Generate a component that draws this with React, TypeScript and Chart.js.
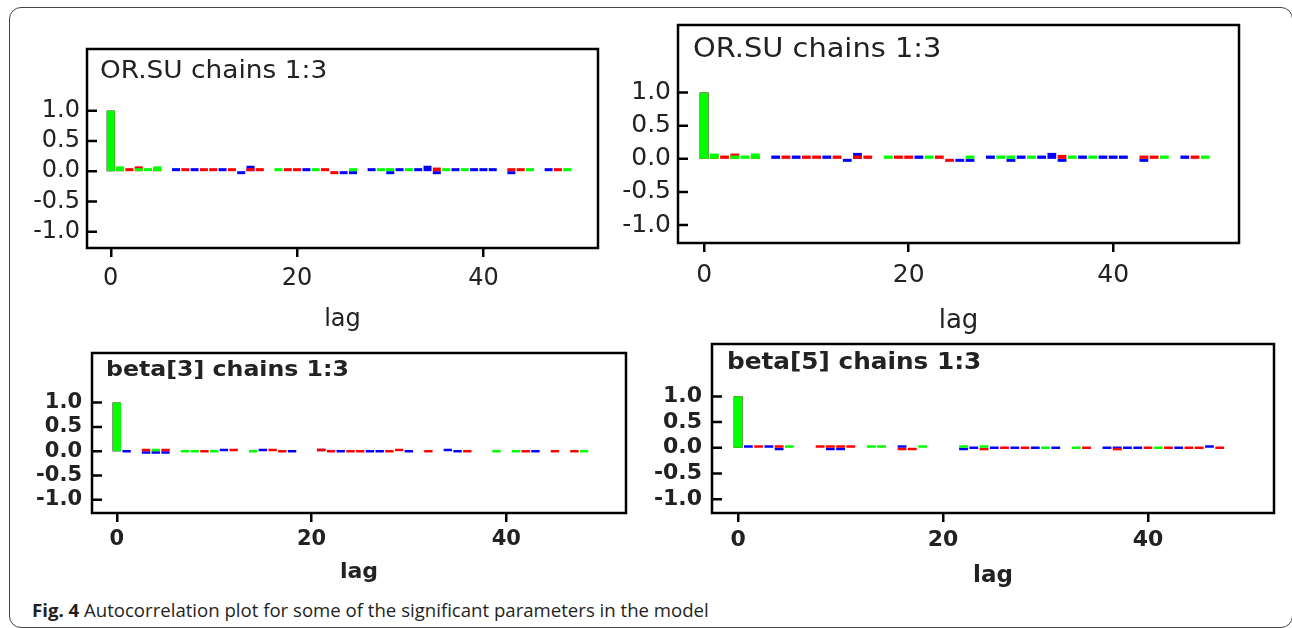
import React, { useEffect, useRef } from "react";
import { Chart, registerables } from "chart.js";

Chart.register(...registerables);

// ---------- data ----------
const LAGS = [
  0, 1, 2, 3, 4, 5, 6, 7, 8, 9, 10, 11, 12, 13, 14, 15, 16, 17, 18, 19, 20, 21, 22, 23, 24,
  25, 26, 27, 28, 29, 30, 31, 32, 33, 34, 35, 36, 37, 38, 39, 40, 41, 42, 43, 44, 45, 46, 47, 48, 49,
];
const X_TICKS = [0, 20, 40];
const Y_TICKS = [-1, -0.5, 0, 0.5, 1];
const X_MIN = -2.55;
const X_MAX = 52.3;
const Y_MIN = -1.27;
const Y_MAX = 2.02;

// OR.SU chains (chain 3 green, chain 2 red, chain 1 blue)
const ORSU_GREEN = [
  1, 0.08, null, 0.05, 0.05, 0.08, null, null, null, null,
  null, null, null, null, null, null, null, null, 0.05, null,
  null, null, 0.05, null, null, null, 0.05, null, null, 0.05,
  0.05, null, 0.05, null, null, null, 0.05, null, 0.05, null,
  null, null, null, null, null, 0.05, null, null, null, 0.05,
];
const ORSU_RED = [
  1, 0.05, 0.05, 0.08, null, 0.05, null, null, 0.05, null,
  0.05, 0.05, null, 0.05, null, 0.05, 0.05, null, null, 0.05,
  0.05, null, null, 0.05, -0.03, null, null, null, null, null,
  null, null, null, null, null, 0.06, null, null, null, null,
  null, null, null, 0.05, 0.05, null, null, null, 0.05, null,
];
const ORSU_BLUE = [
  1, null, null, null, null, null, null, 0.05, null, 0.05,
  null, null, 0.05, null, -0.04, 0.09, null, null, null, null,
  null, 0.05, null, null, null, -0.04, -0.04, null, 0.05, null,
  -0.04, 0.05, null, 0.05, 0.09, -0.04, null, 0.05, null, 0.05,
  0.05, 0.05, null, -0.04, null, null, null, 0.05, null, null,
];

const BETA3_GREEN = [
  1, null, null, null, 0.03, null, null, 0, 0, null,
  0, null, null, null, 0, null, null, null, null, null,
  null, null, null, null, null, null, null, null, null, null,
  null, null, null, null, null, null, null, null, null, 0,
  null, 0, null, null, null, null, null, null, 0, null,
];
const BETA3_RED = [
  1, null, null, 0.04, null, 0.04, null, null, null, 0,
  null, null, 0.04, null, null, null, 0.04, 0, null, null,
  null, 0.03, 0, null, 0, 0, null, null, 0, 0.04,
  null, null, 0, null, null, null, 0, null, null, null,
  null, null, 0, null, null, 0, null, 0, null, null,
];
const BETA3_BLUE = [
  1, 0, null, -0.02, -0.02, -0.02, null, null, null, null,
  null, 0.04, null, null, null, 0.04, null, null, 0, null,
  null, 0.05, null, 0, null, null, 0, 0, null, null,
  0, null, null, null, 0.04, 0, null, null, null, null,
  null, null, null, 0, null, null, null, null, null, null,
];

const BETA5_GREEN = [
  1, null, null, null, null, 0.04, null, null, null, null,
  null, null, null, 0.04, 0.04, null, null, null, 0.04, null,
  null, null, 0.04, null, 0.04, null, null, null, null, null,
  0, null, null, 0, null, null, null, null, null, null,
  null, 0, null, null, null, null, null, null, null, null,
];
const BETA5_RED = [
  1, null, 0.03, null, 0.04, null, null, null, 0.03, 0.03,
  0.03, 0.03, null, null, null, null, -0.03, -0.02, null, null,
  null, null, null, null, -0.02, null, 0, null, 0, null,
  null, null, null, null, 0, null, null, -0.05, null, null,
  0, null, 0, null, 0, 0, null, 0, null, null,
];
const BETA5_BLUE = [
  1, 0.03, null, 0.03, -0.03, null, null, null, null, -0.03,
  -0.03, null, null, null, null, null, 0.04, null, null, null,
  null, null, -0.02, 0, null, 0, null, 0, null, 0,
  null, 0, null, null, null, null, 0, 0, 0, 0,
  null, null, null, 0, null, null, 0.04, null, null, null,
];

const CHAIN_COLORS = ["#00ff00", "#ff0000", "#0000ff"];
const TITLES = ["OR.SU chains 1:3", "OR.SU chains 1:3", "beta[3] chains 1:3", "beta[5] chains 1:3"];
const X_TITLE = "lag";
const CAPTION_BOLD = "Fig. 4";
const CAPTION_TEXT = " Autocorrelation plot for some of the significant parameters in the model";

const FONT = "'DejaVu Sans', sans-serif";
const TEXT = "#222";

type Panel = {
  title: string;
  chains: (number | null)[][];
  L: number; T: number; R: number; B: number;
  yw: number;
  weight: string;
  tickSize: number;
  titleSize: number;
  titleStretch: number;
  titleDx: number;
  titleDy: number;
  yPad: number;
  xPad: number;
  lagY: number;
  lagSize: number;
  minBar: number;
};

const PANELS: Panel[] = [
  {
    title: TITLES[0], chains: [ORSU_GREEN, ORSU_RED, ORSU_BLUE],
    L: 87, T: 49, R: 598, B: 248, yw: 72, weight: "normal",
    tickSize: 24, titleSize: 24, titleStretch: 1.1, titleDx: 13, titleDy: 29,
    yPad: 7, xPad: 7, lagY: 320, lagSize: 24, minBar: 3,
  },
  {
    title: TITLES[1], chains: [ORSU_GREEN, ORSU_RED, ORSU_BLUE],
    L: 678, T: 25, R: 1239, B: 243, yw: 72, weight: "normal",
    tickSize: 25, titleSize: 26, titleStretch: 1.11, titleDx: 15, titleDy: 32,
    yPad: 7, xPad: 8, lagY: 321, lagSize: 26, minBar: 3,
  },
  {
    title: TITLES[2], chains: [BETA3_GREEN, BETA3_RED, BETA3_BLUE],
    L: 92, T: 353, R: 626, B: 513, yw: 72, weight: "bold",
    tickSize: 21, titleSize: 22, titleStretch: 1.075, titleDx: 14, titleDy: 23,
    yPad: 10, xPad: 5, lagY: 572, lagSize: 22, minBar: 2.5,
  },
  {
    title: TITLES[3], chains: [BETA5_GREEN, BETA5_RED, BETA5_BLUE],
    L: 712, T: 344, R: 1274, B: 513, yw: 72, weight: "bold",
    tickSize: 22, titleSize: 23, titleStretch: 1.076, titleDx: 15, titleDy: 25,
    yPad: 10, xPad: 5, lagY: 576, lagSize: 23, minBar: 2.5,
  },
];

function PanelChart({ p }: { p: Panel }) {
  const ref = useRef<HTMLCanvasElement>(null);
  const left = p.L - p.yw;
  const top = p.T - 3;
  const right = p.R + 4;
  const bottom = Math.ceil(p.lagY + 0.6 * p.lagSize + 3);
  const width = right - left;
  const height = bottom - top;
  const xh = bottom - p.B;
  const titlePadBottom = bottom - p.lagY - 0.6 * p.lagSize;

  useEffect(() => {
    if (!ref.current) return;
    const font = (size: number) => ({ family: FONT, size, weight: p.weight as any });
    const deco = {
      id: "deco",
      afterDatasetsDraw(chart: any) {
        const { ctx, chartArea: a, scales } = chart;
        ctx.save();
        ctx.strokeStyle = "#000";
        ctx.lineWidth = 2.5;
        ctx.strokeRect(a.left, a.top, a.right - a.left, a.bottom - a.top);
        ctx.beginPath();
        Y_TICKS.forEach((v) => {
          const y = scales.y.getPixelForValue(v);
          ctx.moveTo(a.left, y);
          ctx.lineTo(a.left + 10, y);
        });
        ctx.stroke();
        ctx.fillStyle = TEXT;
        ctx.font = `${p.weight} ${p.titleSize}px ${FONT}`;
        ctx.textBaseline = "alphabetic";
        ctx.textAlign = "left";
        ctx.translate(a.left + p.titleDx, a.top + p.titleDy);
        ctx.scale(p.titleStretch, 1);
        ctx.fillText(p.title, 0, 0);
        ctx.restore();
      },
    };
    const chart = new Chart(ref.current, {
      type: "bar",
      data: {
        datasets: p.chains.map((vals, ci) => ({
          label: `chain ${3 - ci}`,
          data: LAGS.map((x, i) => ({ x, y: vals[i] })),
          backgroundColor: CHAIN_COLORS[ci],
          borderWidth: 0,
          grouped: false,
          barPercentage: 0.86,
          categoryPercentage: 1,
          minBarLength: p.minBar,
        })) as any,
      },
      options: {
        animation: false,
        responsive: false,
        maintainAspectRatio: false,
        layout: { padding: { top: 3, right: 4, left: 0, bottom: 0 } },
        plugins: {
          legend: { display: false },
          tooltip: { enabled: false },
          title: { display: false },
        },
        scales: {
          x: {
            type: "linear",
            min: X_MIN,
            max: X_MAX,
            offset: false,
            afterBuildTicks: (s: any) => {
              s.ticks = X_TICKS.map((value) => ({ value }));
            },
            afterFit: (s: any) => {
              s.height = xh;
              s.paddingLeft = 0;
              s.paddingRight = 0;
            },
            grid: {
              display: true,
              offset: false,
              drawOnChartArea: false,
              drawTicks: true,
              tickLength: 9,
              lineWidth: 2.5,
              color: "#000",
            },
            border: { display: false },
            ticks: {
              autoSkip: false,
              maxRotation: 0,
              padding: p.xPad,
              font: font(p.tickSize),
              color: TEXT,
              callback: (v: any) => String(v),
            },
            title: {
              display: true,
              text: X_TITLE,
              font: font(p.lagSize),
              color: TEXT,
              padding: { top: 0, bottom: titlePadBottom },
            },
          },
          y: {
            type: "linear",
            min: Y_MIN,
            max: Y_MAX,
            afterBuildTicks: (s: any) => {
              s.ticks = Y_TICKS.map((value) => ({ value }));
            },
            afterFit: (s: any) => {
              s.width = p.yw;
              s.paddingTop = 0;
              s.paddingBottom = 0;
            },
            grid: { display: false, drawTicks: false },
            border: { display: false },
            ticks: {
              autoSkip: false,
              padding: p.yPad,
              font: font(p.tickSize),
              color: TEXT,
              callback: (v: any) => Number(v).toFixed(1),
            },
          },
        },
      } as any,
      plugins: [deco],
    });
    return () => chart.destroy();
  }, []);

  return (
    <canvas
      ref={ref}
      width={width}
      height={height}
      style={{ position: "absolute", left, top, width, height, display: "block" }}
    />
  );
}

export default function App() {
  return (
    <div
      style={{
        position: "absolute",
        left: 0,
        top: 0,
        width: 1292,
        height: 628,
        background: "#fff",
        overflow: "hidden",
      }}
    >
      <div
        style={{
          position: "absolute",
          left: 9,
          top: 7,
          width: 1284,
          height: 621,
          border: "1.5px solid #444",
          borderRadius: 12,
          boxSizing: "border-box",
        }}
      />
      {PANELS.map((p, i) => (
        <PanelChart key={i} p={p} />
      ))}
      <div
        style={{
          position: "absolute",
          left: 32,
          top: 598,
          fontFamily: "'Open Sans', Lato, sans-serif",
          fontSize: 18.6,
          lineHeight: "23px",
          color: "#231f20",
          whiteSpace: "nowrap",
        }}
      >
        <b>{CAPTION_BOLD}</b>
        {CAPTION_TEXT}
      </div>
    </div>
  );
}
